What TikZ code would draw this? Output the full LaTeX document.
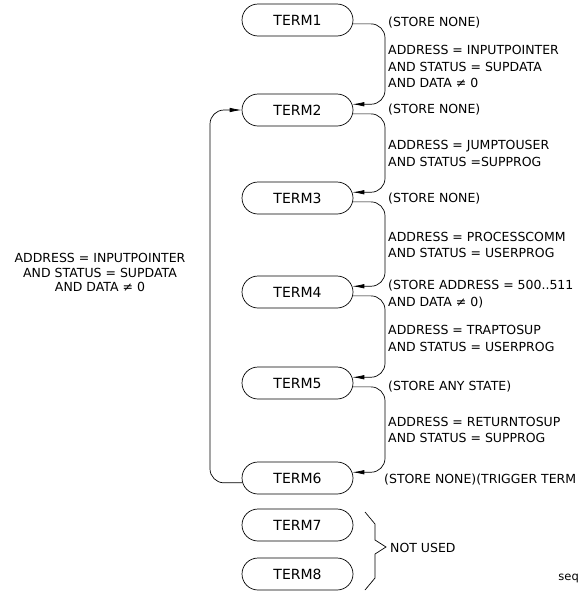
\documentclass[tikz,border=0pt]{standalone}
\usepackage{fontspec}
\setmainfont{DejaVu Sans}
\usetikzlibrary{arrows.meta,shapes.misc}

\begin{document}
\begin{tikzpicture}[x=1pt,y=-1pt,
  term/.style={rounded rectangle,draw,line width=0.7pt,minimum width=111pt,minimum height=32pt,inner sep=0pt,font=\fontsize{14}{16}\selectfont},
  flow/.style={line width=0.7pt,rounded corners=14pt,-{Latex[length=12pt,width=4.5pt]}},
  lbl/.style={anchor=west,align=left,inner sep=0pt,font=\fontsize{12.5}{16.5}\selectfont}]
  \useasboundingbox (0,0) rectangle (582,592);
  \foreach \n/\y in {1/20,2/110,3/198,4/292,5/383,6/478,7/525,8/574}{
    \node[term] (t\n) at (297.5,\y) {TERM\n};
  }
  \coordinate (bus) at (385,0);
  \coordinate (back) at (210,0);
  \foreach \a/\b in {1/2,2/3,3/4,4/5,5/6}{
    \draw[flow] (t\a.-4) -| (bus |- t\b.6) -- (t\b.6);
  }
  \draw[flow] (t6.185) -| (back |- t2.west) -- (t2.west);
  \node[lbl] (s1) at (388,23) {(STORE NONE)};
  \node[lbl] (c1) at (388,66.5) {ADDRESS = INPUTPOINTER\\AND STATUS = SUPDATA\\AND DATA ≠ 0};
  \node[lbl] (s2) at (388,110) {(STORE NONE)};
  \node[lbl] (c2) at (388,153.5) {ADDRESS = JUMPTOUSER\\AND STATUS =SUPPROG};
  \node[lbl] (s3) at (388,199) {(STORE NONE)};
  \node[lbl] (c3) at (388,245) {ADDRESS = PROCESSCOMM\\AND STATUS = USERPROG};
  \node[lbl] (s4) at (388,294) {(STORE ADDRESS = 500..511\\AND DATA ≠ 0)};
  \node[lbl] (c4) at (388,338.5) {ADDRESS = TRAPTOSUP\\AND STATUS = USERPROG};
  \node[lbl] (s5) at (388,387) {(STORE ANY STATE)};
  \node[lbl] (c5) at (388,430) {ADDRESS = RETURNTOSUP\\AND STATUS = SUPPROG};
  \node[lbl] (s6) at (384,480) {(STORE NONE)(TRIGGER TERM};
  \node[lbl,align=center,anchor=center,font=\fontsize{12.5}{14.5}\selectfont] (cback) at (100,272.5) {ADDRESS = INPUTPOINTER\\AND STATUS = SUPDATA\\AND DATA ≠ 0};
  \draw[line width=0.7pt] (365,512) -- (375,524) -- (375,540) -- (386,547) -- (375,554) -- (375,578) -- (365,590);
  \node[lbl] (unused) at (390,548) {NOT USED};
  \node[lbl,anchor=east,font=\fontsize{11.5}{13}\selectfont] (seq) at (579,578) {seq};
\end{tikzpicture}
\end{document}
